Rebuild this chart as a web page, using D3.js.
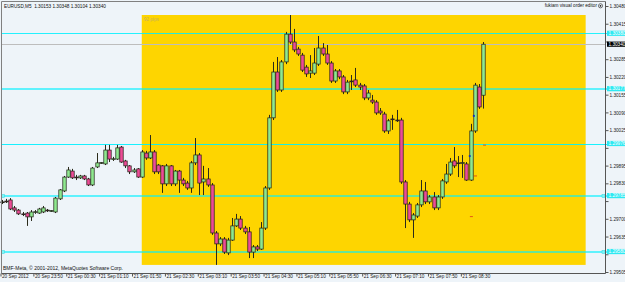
<!DOCTYPE html>
<html><head><meta charset="utf-8">
<script src="https://cdn.jsdelivr.net/npm/d3@7/dist/d3.min.js"></script>
<style>html,body{margin:0;padding:0;background:#fff;}svg{display:block;font-family:"Liberation Sans",Arial,sans-serif;}</style>
</head><body>
<svg id="chart" width="625" height="282"></svg>
<script>
// ---- DATA ----
const symbolTitle = "EURUSD,M5  1.30153 1.30348 1.30104 1.30340";
const times = ["23:10","23:15","23:20","23:25","23:30","23:35","23:40","23:45","23:50","23:55",
"00:00","00:05","00:10","00:15","00:20","00:25","00:30","00:35","00:40","00:45","00:50","00:55",
"01:00","01:05","01:10","01:15","01:20","01:25","01:30","01:35","01:40","01:45","01:50","01:55",
"02:00","02:05","02:10","02:15","02:20","02:25","02:30","02:35","02:40","02:45","02:50","02:55",
"03:00","03:05","03:10","03:15","03:20","03:25","03:30","03:35","03:40","03:45","03:50","03:55",
"04:00","04:05","04:10","04:15","04:20","04:25","04:30","04:35","04:40","04:45","04:50","04:55",
"05:00","05:05","05:10","05:15","05:20","05:25","05:30","05:35","05:40","05:45","05:50","05:55",
"06:00","06:05","06:10","06:15","06:20","06:25","06:30","06:35","06:40","06:45","06:50","06:55",
"07:00","07:05","07:10","07:15","07:20","07:25","07:30","07:35","07:40","07:45","07:50","07:55",
"08:00","08:05","08:10","08:15","08:20","08:25","08:30","08:35","08:40","08:45","08:50","08:55"];
const open = [1.29762,1.29765,1.29769,1.29740,1.29732,1.29718,1.29721,1.29707,1.29725,1.29721,
1.29725,1.29732,1.29729,1.29725,1.29773,1.29802,1.29853,1.29875,1.29853,1.29850,1.29857,1.29846,
1.29824,1.29890,1.29905,1.29901,1.29952,1.29919,1.29919,1.29963,1.29912,1.29894,1.29872,1.29883,
1.29853,1.29941,1.29923,1.29945,1.29897,1.29894,1.29828,1.29894,1.29828,1.29875,1.29842,1.29831,
1.29813,1.29905,1.29934,1.29835,1.29846,1.29824,1.29648,1.29608,1.29626,1.29575,1.29622,1.29674,
1.29699,1.29666,1.29652,1.29578,1.29597,1.29589,1.29666,1.29813,1.30070,1.30238,1.30172,1.30275,
1.30377,1.30348,1.30322,1.30300,1.30256,1.30234,1.30234,1.30267,1.30326,1.30304,1.30271,1.30205,
1.30242,1.30220,1.30165,1.30205,1.30209,1.30190,1.30187,1.30143,1.30135,1.30128,1.30095,1.30084,
1.30022,1.30066,1.30062,1.30062,1.29835,1.29754,1.29696,1.29710,1.29751,1.29802,1.29762,1.29780,
1.29740,1.29780,1.29835,1.29864,1.29912,1.29905,1.29905,1.29901,1.29842,1.30022,1.30183,1.30153];
const high = [1.29769,1.29773,1.29776,1.29747,1.29736,1.29725,1.29725,1.29732,1.29732,1.29740,
1.29747,1.29736,1.29732,1.29780,1.29809,1.29857,1.29890,1.29883,1.29861,1.29861,1.29861,1.29850,
1.29890,1.29941,1.29908,1.29971,1.29971,1.29927,1.29971,1.29967,1.29916,1.29897,1.29886,1.29886,
1.29952,1.29949,1.30007,1.29952,1.29901,1.29897,1.29901,1.29897,1.29879,1.29879,1.29850,1.29839,
1.29912,1.29996,1.29941,1.29894,1.29886,1.29831,1.29655,1.29633,1.29633,1.29630,1.29703,1.29718,
1.29710,1.29674,1.29670,1.29604,1.29604,1.29688,1.29820,1.30081,1.30275,1.30293,1.30282,1.30385,
1.30447,1.30396,1.30330,1.30308,1.30264,1.30300,1.30326,1.30370,1.30344,1.30337,1.30278,1.30249,
1.30249,1.30227,1.30209,1.30227,1.30253,1.30198,1.30194,1.30172,1.30154,1.30135,1.30106,1.30092,
1.30066,1.30081,1.30099,1.30070,1.29842,1.29762,1.29721,1.29758,1.29842,1.29835,1.29787,1.29798,
1.29787,1.29846,1.29901,1.29923,1.29963,1.29930,1.29934,1.29908,1.30048,1.30198,1.30194,1.30348];
const low = [1.29754,1.29758,1.29732,1.29725,1.29714,1.29710,1.29674,1.29692,1.29718,1.29718,
1.29721,1.29725,1.29725,1.29721,1.29769,1.29798,1.29850,1.29846,1.29842,1.29846,1.29842,1.29820,
1.29820,1.29886,1.29901,1.29897,1.29908,1.29912,1.29916,1.29905,1.29886,1.29864,1.29868,1.29850,
1.29850,1.29916,1.29919,1.29864,1.29864,1.29795,1.29820,1.29820,1.29820,1.29795,1.29820,1.29806,
1.29795,1.29897,1.29787,1.29787,1.29817,1.29641,1.29531,1.29600,1.29571,1.29567,1.29619,1.29670,
1.29659,1.29644,1.29556,1.29556,1.29582,1.29586,1.29659,1.29806,1.30062,1.30165,1.30165,1.30267,
1.30341,1.30311,1.30297,1.30238,1.30220,1.30216,1.30227,1.30260,1.30297,1.30264,1.30198,1.30198,
1.30212,1.30157,1.30157,1.30172,1.30183,1.30172,1.30135,1.30135,1.30121,1.30081,1.30081,1.30015,
1.30011,1.30026,1.30055,1.29828,1.29666,1.29688,1.29630,1.29703,1.29743,1.29754,1.29754,1.29732,
1.29732,1.29773,1.29828,1.29857,1.29886,1.29853,1.29850,1.29839,1.29839,1.30015,1.30103,1.30104];
const close = [1.29762,1.29762,1.29736,1.29732,1.29718,1.29716,1.29707,1.29725,1.29726,1.29736,
1.29740,1.29729,1.29730,1.29776,1.29806,1.29853,1.29879,1.29850,1.29850,1.29857,1.29846,1.29824,
1.29886,1.29905,1.29906,1.29952,1.29919,1.29920,1.29960,1.29908,1.29894,1.29872,1.29879,1.29853,
1.29945,1.29923,1.29945,1.29872,1.29872,1.29828,1.29894,1.29828,1.29875,1.29842,1.29828,1.29813,
1.29905,1.29934,1.29831,1.29846,1.29824,1.29648,1.29608,1.29626,1.29578,1.29622,1.29674,1.29699,
1.29666,1.29652,1.29578,1.29597,1.29589,1.29666,1.29813,1.30070,1.30238,1.30172,1.30275,1.30377,
1.30348,1.30319,1.30304,1.30245,1.30231,1.30242,1.30271,1.30326,1.30304,1.30271,1.30205,1.30242,
1.30220,1.30165,1.30201,1.30203,1.30190,1.30183,1.30143,1.30161,1.30128,1.30088,1.30088,1.30022,
1.30059,1.30065,1.30059,1.29835,1.29754,1.29696,1.29714,1.29751,1.29802,1.29762,1.29780,1.29740,
1.29780,1.29839,1.29864,1.29908,1.29894,1.29903,1.29906,1.29842,1.30022,1.30190,1.30110,1.30340];

const priceTicks = [1.30480,1.30415,1.30350,1.30285,1.30220,1.30155,1.30090,1.30025,1.29960,1.29895,1.29830,1.29765,1.29700,1.29635,1.29570,1.29505];
const timeTicks = ["23:10","23:50","00:30","01:10","01:50","02:30","03:10","03:50","04:30","05:10","05:50","06:30","07:10","07:50","08:30"];
const timeTickLabels = ["20 Sep 2012","20 Sep 23:50","21 Sep 00:30","21 Sep 01:10","21 Sep 01:50","21 Sep 02:30","21 Sep 03:10","21 Sep 03:50","21 Sep 04:30","21 Sep 05:10","21 Sep 05:50","21 Sep 06:30","21 Sep 07:10","21 Sep 07:50","21 Sep 08:30"];

const levelPrices = [1.30380, 1.30177, 1.29976, 1.29785, 1.29580];
const bidPrice = 1.30340;
const boxStart = "02:00", boxEnd = "11:00";
const boxLabel = "92 pips";
const markerTimes = ["08:44","08:39","08:57","08:46","08:41"];
const markerPrices = [1.30077, 1.29930, 1.29970, 1.29857, 1.29708];
const markerKinds = ["dot","dot","dash","dash","dash"];
const footerText = "BMF-Meta, \u00A9 2001-2012, MetaQuotes Software Corp.";
const editorText = "fukiam visual order editor";

// ---- DRAW ----
const parseT = s => { const [h, m] = s.split(":").map(Number); return new Date(2012, 8, h >= 12 ? 20 : 21, h, m); };
const T = times.map(parseT);
const data = T.map((t, i) => ({t, o: open[i], h: high[i], l: low[i], c: close[i]}));

const x = d3.scaleTime().domain([T[0], T[T.length - 1]]).range([2, 482.9]);
const y = d3.scaleLinear().domain([1.29505, 1.30480]).range([272, 6]);

const svg = d3.select("#chart");
const W = 625, H = 282, PL = 1.5, PR = 605.5, PT = 1.5, PB = 273.5;
const FS = 4.7;

svg.append("rect").attr("width", W).attr("height", H).attr("fill", "#eef4f9");

// range box
const sub = data.filter(d => d.t >= parseT(boxStart));
const bx0 = x(parseT(boxStart)), bx1 = x(parseT(boxEnd));
const by0 = y(d3.max(sub, d => d.h)), by1 = y(d3.min(sub, d => d.l));
svg.append("rect").attr("x", bx0).attr("y", by0).attr("width", bx1 - bx0).attr("height", by1 - by0).attr("fill", "#fed500");
svg.append("text").attr("x", bx0 + 2).attr("y", by0 + 5.5).attr("font-size", FS).attr("fill", "#c9b25a").text(boxLabel);

// level lines
const levelStyle = [{w:1, op:0.85}, {w:2, op:0.6}, {w:1, op:0.9}, {w:2, op:0.6}, {w:2, op:0.6}];
const levelSquares = [false, false, false, true, true];
levelPrices.forEach((p, i) => {
  const yy = Math.round(y(p)) + (levelStyle[i].w === 1 ? 0.5 : 0);
  svg.append("line").attr("x1", PL).attr("x2", W).attr("y1", yy).attr("y2", yy)
    .attr("stroke", "#00f0ff").attr("stroke-width", levelStyle[i].w).attr("stroke-opacity", levelStyle[i].op);
  if (levelSquares[i]) {
    [PL + 1.5, PR - 2].forEach(sx => svg.append("rect").attr("x", sx - 1.5).attr("y", yy - 1.5).attr("width", 3).attr("height", 3)
      .attr("fill", "#7ff6f8").attr("stroke", "#30d8e0").attr("stroke-width", 0.5));
  }
});
// bid line
const byy = Math.round(y(bidPrice)) + 0.5;
svg.append("line").attr("x1", PL).attr("x2", PR).attr("y1", byy).attr("y2", byy).attr("stroke", "#bdbdbd").attr("stroke-width", 1);

// candles
const cg = svg.append("g");
cg.selectAll("line.wick").data(data).join("line").attr("class", "wick")
  .attr("x1", d => Math.round(x(d.t)) + 0.5).attr("x2", d => Math.round(x(d.t)) + 0.5)
  .attr("y1", d => y(d.h)).attr("y2", d => y(d.l))
  .attr("stroke", "#2a2a1a").attr("stroke-width", 1);
cg.selectAll("rect.body").data(data).join("rect").attr("class", "body")
  .attr("x", d => Math.round(x(d.t)) - 1.2).attr("width", 3.4)
  .attr("y", d => y(Math.max(d.o, d.c)))
  .attr("height", d => Math.max(0.8, Math.abs(y(d.o) - y(d.c))))
  .attr("fill", d => d.c > d.o ? "#8fe88f" : (d.c < d.o ? "#ec4c96" : "#222"))
  .attr("stroke", "#1e1e14").attr("stroke-width", 0.7);

// trade markers
markerTimes.forEach((t, i) => {
  const mx = x(parseT(t)), my = y(markerPrices[i]);
  if (markerKinds[i] === "dot") svg.append("circle").attr("cx", mx).attr("cy", my).attr("r", 1.1).attr("fill", "#1030c0");
  else svg.append("line").attr("x1", mx - 1.5).attr("x2", mx + 1.5).attr("y1", my).attr("y2", my).attr("stroke", "#e04818").attr("stroke-width", 0.9);
});

// frame
svg.append("path").attr("d", `M${PR},${PT}H${PL}V${PB}`).attr("fill", "none").attr("stroke", "#808080").attr("stroke-width", 1);

// price axis
const boxed = levelPrices.concat([bidPrice]);
const yAxis = d3.axisRight(y).tickValues(priceTicks).tickSize(3).tickPadding(1).tickFormat(d3.format(".5f"));
const ya = svg.append("g").attr("transform", `translate(${PR},0)`).call(yAxis);
ya.select(".domain").attr("d", `M0,${PT}V${PB}`).attr("stroke", "#555");
ya.selectAll(".tick line").attr("stroke", "#555");
ya.selectAll("text").attr("font-size", FS).attr("font-family", "Liberation Sans, Arial, sans-serif").attr("fill", "#222").attr("dy", "0.35em")
  .style("display", d => boxed.some(b => Math.abs(y(b) - y(d)) < 5.5) ? "none" : null);

// highlighted price labels
function priceBox(p, fill) {
  const yy = y(p);
  svg.append("rect").attr("x", PR + 1.5).attr("y", yy - 2.6).attr("width", W - PR - 1.5).attr("height", 5.2).attr("fill", fill);
  svg.append("text").attr("x", PR + 3).attr("y", yy + 1.7).attr("font-size", FS).attr("fill", "#fff").text(d3.format(".5f")(p));
}
levelPrices.forEach(p => priceBox(p, "#2ee9f2"));
priceBox(bidPrice, "#000");

// time axis
const xAxis = d3.axisBottom(x).tickValues(timeTicks.map(parseT)).tickSize(3).tickPadding(1)
  .tickFormat((d, i) => timeTickLabels[i]);
const xa = svg.append("g").attr("transform", `translate(-1.5,${PB})`).call(xAxis);
xa.select(".domain").attr("d", `M${PL + 1.5},0H${PR + 1.5}`).attr("stroke", "#555");
xa.selectAll(".tick line").attr("stroke", "#555");
xa.selectAll("text").attr("font-size", FS).attr("font-family", "Liberation Sans, Arial, sans-serif")
  .attr("fill", "#222").attr("text-anchor", "start").attr("dx", "1").attr("dy", "0.2em");

// texts
svg.append("text").attr("x", 4).attr("y", 7.6).attr("font-size", FS).attr("fill", "#111").attr("xml:space", "preserve").style("white-space", "pre").text(symbolTitle);
svg.append("text").attr("x", 3).attr("y", 269.6).attr("font-size", FS + 0.3).attr("fill", "#111").text(footerText);
svg.append("text").attr("x", 597).attr("y", 7.4).attr("font-size", FS).attr("fill", "#111").attr("text-anchor", "end").text(editorText);
svg.append("circle").attr("cx", 600.5).attr("cy", 5.8).attr("r", 2.1).attr("fill", "none").attr("stroke", "#222").attr("stroke-width", 0.6);
svg.append("circle").attr("cx", 600.5).attr("cy", 5.8).attr("r", 0.9).attr("fill", "#222");
</script>
</body></html>
